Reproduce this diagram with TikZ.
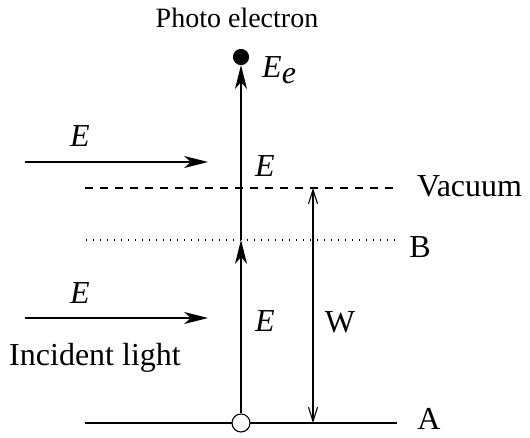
\documentclass[tikz,border=0pt]{standalone}
\usepackage{fontspec}
\setmainfont{Liberation Serif}
\usetikzlibrary{arrows.meta,positioning}

\begin{document}
\begin{tikzpicture}[x=1pt, y=-1pt, >={Stealth[length=24pt, width=12pt, inset=7pt]},
  every node/.style={inner sep=0pt, font=\fontsize{32}{34}\selectfont},
  lvl/.style={line width=1.3pt},
  dot/.style={circle, draw, line width=1.1pt, inner sep=0pt, minimum size=18pt},
  wtip/.style={{Straight Barb[length=14pt, width=9pt]}-{Straight Barb[length=14pt, width=9pt]}, line width=1.1pt}]
  \useasboundingbox (0,0) rectangle (530,438);
  % energy levels
  \coordinate (v1) at (85,188);  \coordinate (v2) at (397,188);
  \coordinate (b1) at (86,240);  \coordinate (b2) at (397,240);
  \coordinate (a1) at (85,423);  \coordinate (a2) at (397,423);
  \draw[lvl, dash pattern=on 8pt off 7pt] (v1) -- (v2);
  \draw[lvl, dash pattern=on 1.4pt off 5.6pt] (b1) -- (b2);
  \draw[lvl] (a1) -- (a2);
  \node[anchor=west] (vac) at (417,186) {Vacuum};
  \node (B) at (420,247) {B};
  \node (A) at (429,419) {A};
  % electron path
  \node[dot, fill=white] (hole) at (241,423) {};
  \node[dot, fill=black, minimum size=15pt] (el) at (241,57) {};
  \coordinate (mid) at (241,240);
  \draw[->, line width=1.1pt] (hole) -- (mid);
  \draw[->, line width=1.1pt] (mid) -- (el);
  \node (Ee) at (262,70) [anchor=west] {\textit{E}$_{\textit{e}}$};
  \node (E1) at (265,166) {\textit{E}};
  \node (E2) at (265,321) {\textit{E}};
  \node[font=\fontsize{28}{30}\selectfont] (ttl) at (237,18) {Photo electron};
  % work function
  \coordinate (w1) at (313,188); \coordinate (w2) at (313,423);
  \draw[wtip] (w1) -- (w2);
  \node (W) at (340,322) {W};
  % incident light
  \coordinate (p1) at (25,162);  \coordinate (p2) at (208,162);
  \coordinate (q1) at (25,318);  \coordinate (q2) at (208,318);
  \draw[->, line width=1.3pt] (p1) -- (p2);
  \draw[->, line width=1.3pt] (q1) -- (q2);
  \node (EL1) at (80,136) {\textit{E}};
  \node (EL2) at (80,293) {\textit{E}};
  \node (inc) at (95,358) {Incident light};
\end{tikzpicture}
\end{document}
